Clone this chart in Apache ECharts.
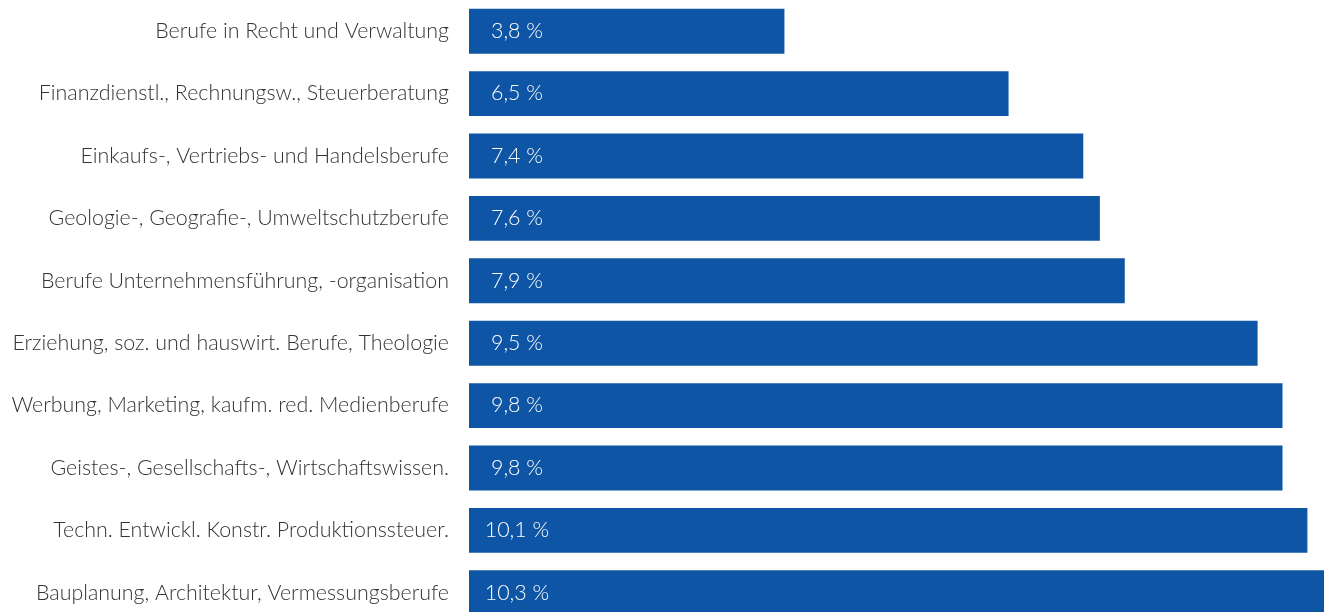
<!DOCTYPE html>
<html><head><meta charset="utf-8">
<script src="https://cdn.jsdelivr.net/npm/echarts@6/dist/echarts.min.js"></script>
<style>html,body{margin:0;padding:0;background:#fff;overflow:hidden}#c{width:1325px;height:624px}</style>
</head><body><div id="c"></div>
<script>
const categories = [
  "Berufe in Recht und Verwaltung",
  "Finanzdienstl., Rechnungsw., Steuerberatung",
  "Einkaufs-, Vertriebs- und Handelsberufe",
  "Geologie-, Geografie-, Umweltschutzberufe",
  "Berufe Unternehmensführung, -organisation",
  "Erziehung, soz. und hauswirt. Berufe, Theologie",
  "Werbung, Marketing, kaufm. red. Medienberufe",
  "Geistes-, Gesellschafts-, Wirtschaftswissen.",
  "Techn. Entwickl. Konstr. Produktionssteuer.",
  "Bauplanung, Architektur, Vermessungsberufe"
];
const values = [3.8, 6.5, 7.4, 7.6, 7.9, 9.5, 9.8, 9.8, 10.1, 10.3];

const chart = echarts.init(document.getElementById('c'), null, {renderer: 'canvas'});
chart.setOption({
  animation: false,
  grid: {left: 469, right: 1, top: 0, bottom: 0, containLabel: false},
  xAxis: {type: 'value', min: 0, max: 10.3, show: false},
  yAxis: {
    type: 'category', data: categories, inverse: true,
    axisLine: {show: false}, axisTick: {show: false}, splitLine: {show: false},
    axisLabel: {color: '#333333', fontFamily: 'Lato', fontWeight: 300, fontSize: 21.4, margin: 20}
  },
  series: [{
    type: 'bar', data: values, barCategoryGap: '28%',
    itemStyle: {color: '#0f55a5'},
    label: {
      show: true, position: [48, '50%'], align: 'center', verticalAlign: 'middle',
      color: '#ffffff', fontFamily: 'Lato', fontWeight: 300, fontSize: 21.4,
      formatter: p => p.value.toFixed(1).replace('.', ',') + ' %'
    }
  }]
});
</script></body></html>
